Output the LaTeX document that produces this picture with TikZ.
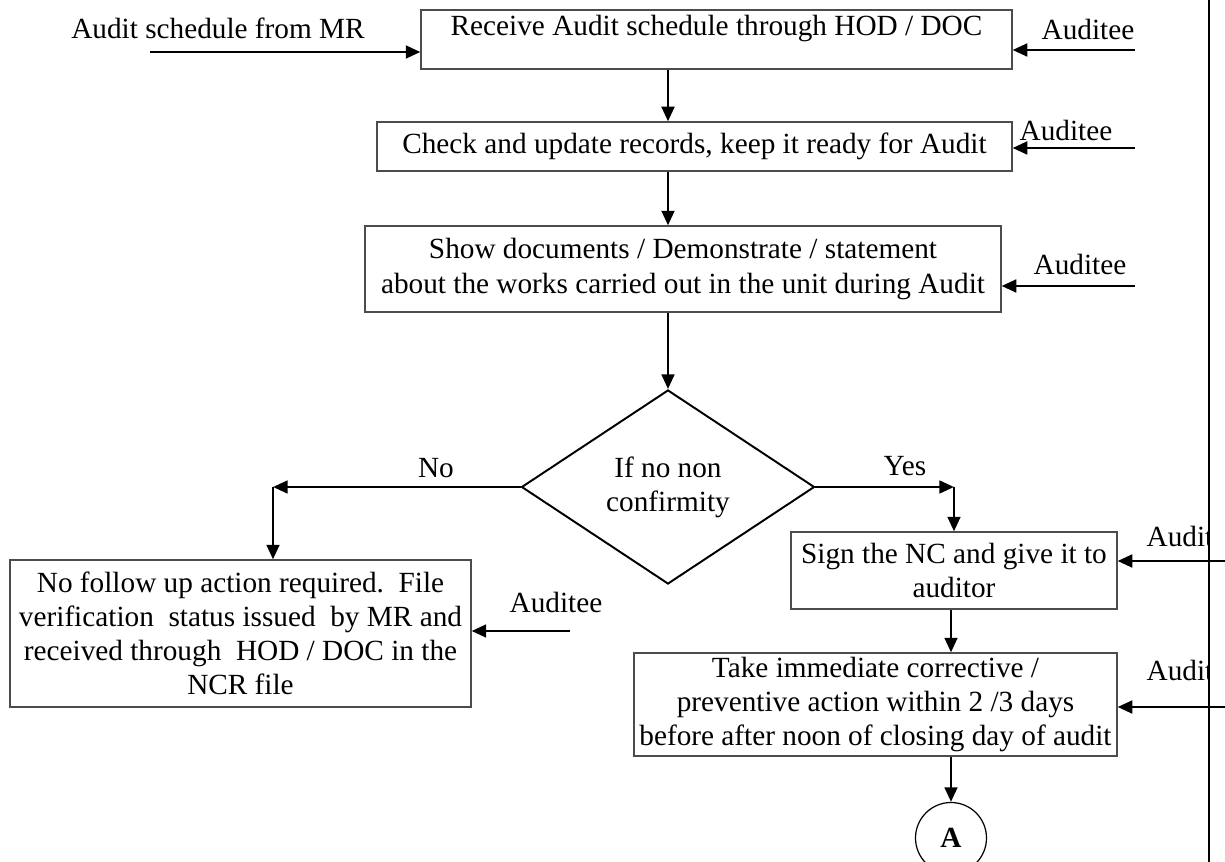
\documentclass[tikz,border=0pt]{standalone}
\usepackage{fontspec}
\setmainfont{Liberation Serif}
\usepackage{tikz}
\usetikzlibrary{arrows.meta}
\usetikzlibrary{shapes.geometric}
\usetikzlibrary{positioning, calc}

\newcommand\pxu{0.41pt}

\begin{document}
\begin{tikzpicture}[x=0.41pt, y=-0.41pt, font=\fontsize{12}{14}\selectfont]
\useasboundingbox (0,0) rectangle (1225,862);
\clip (0,0) rectangle (1225,862);

\begin{scope}[every node/.style={draw=black!70,line width=0.5pt,align=center,inner sep=0pt}]
    \node[minimum width=591*\pxu, text height=26*\pxu, text depth=33*\pxu] (recv) at (716.5,39.5) {Receive Audit schedule through HOD / DOC};
    \node[minimum width=635*\pxu, minimum height=49*\pxu] (check) at (694.5,146.5) {Check and update records, keep it ready for Audit};
    \node[minimum width=636*\pxu, minimum height=86*\pxu] (show) at (683,269) {Show documents / Demonstrate / statement\\about the works carried out in the unit during Audit};
    \node[minimum width=461*\pxu, minimum height=147*\pxu] (nofollow) at (240.5,633.5) {No follow up action required.\ \ File\\verification\ \ status issued\ \ by MR and\\received through\ \ HOD / DOC in the\\NCR file};
    \node[minimum width=326*\pxu, minimum height=77*\pxu] (sign) at (954,570.5) {Sign the NC and give it to\\auditor};
    \node[minimum width=483*\pxu, minimum height=103*\pxu] (act) at (875.5,704.5) {Take immediate corrective /\\preventive action within 2 /3 days\\before after noon of closing day of audit};
\end{scope}

\node[diamond, draw=black, line width=0.8pt, align=center, inner sep=0pt,
      minimum width=293*\pxu, minimum height=194*\pxu] (dec) at (668,487) {If no non\\confirmity};
\node[circle, draw=black, line width=0.5pt, minimum size=71*\pxu, inner sep=0pt, font=\fontsize{12}{14}\selectfont\bfseries] (cA) at (951,838) {A};

% outside inputs
\node (mrtxt) at (218,28) {Audit schedule from MR};
\node (audA) at (1088,29) {Auditee};
\node (audB) at (1066,130) {Auditee};
\node (audC) at (1080,264) {Auditee};
\node (audD) at (556,602) {Auditee};
\node (no) at (436,468) {No};
\node (yes) at (905,466) {Yes};
\begin{scope}
    \clip (0,0) rectangle (1209,862);
    \node (audE) at (1193,536) {Auditee};
    \node (audF) at (1193,670) {Auditee};
\end{scope}

\coordinate (mr) at (150,52);
\coordinate (in1) at (1135,50);
\coordinate (in2) at (1135,148);
\coordinate (in3) at (1135,286);
\coordinate (in4) at (570,631);
\coordinate (in5) at (1225,561);
\coordinate (in6) at (1225,707);
\coordinate (noc) at (273,487);
\coordinate (yesc) at (954,487);

\draw[line width=1.1pt] (1209,0) -- (1209,862);

\begin{scope}[>={Triangle[length=6pt,width=5.2pt]},
              every edge/.style={draw=black,line width=1.1pt}]
    \path [->] (mr) edge (recv.west |- mr);
    \path [->] (in1) edge (recv.east |- in1);
    \path [->] (in2) edge (check.east |- in2);
    \path [->] (in3) edge (show.east |- in3);
    \path [->] (in4) edge (nofollow.east |- in4);
    \path [->] (in5) edge (sign.east |- in5);
    \path [->] (in6) edge (act.east |- in6);
    \path [->] (recv.south -| dec.north) edge (check.north -| dec.north);
    \path [->] (check.south -| dec.north) edge (show.north -| dec.north);
    \path [->] (show.south -| dec.north) edge (dec.north);
    \path [->] (dec.west) edge (noc);
    \path [->] (noc) edge (nofollow.north -| noc);
    \path [->] (dec.east) edge (yesc);
    \path [->] (yesc) edge (sign.north -| yesc);
    \path [->] (sign.south -| cA.north) edge (act.north -| cA.north);
    \path [->] (act.south -| cA.north) edge (cA.north);
\end{scope}
\end{tikzpicture}
\end{document}
